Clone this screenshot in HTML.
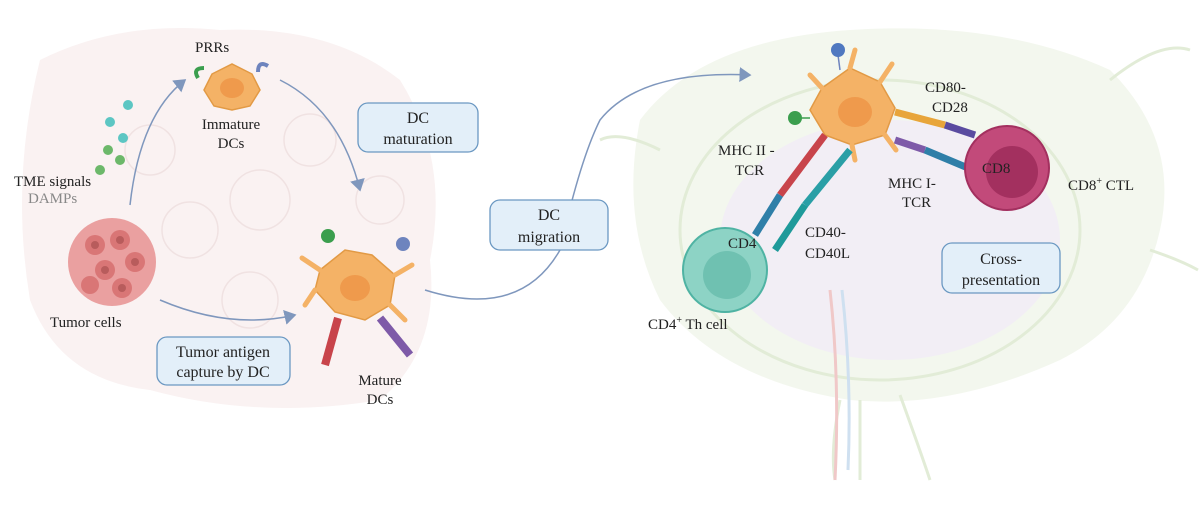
<!DOCTYPE html>
<html><head><meta charset="utf-8"><style>
body{margin:0;background:#fff;width:1200px;height:513px;overflow:hidden}
svg{display:block}
text{font-family:"Liberation Serif",serif;font-size:15px;fill:#222}
.box{fill:#e3eff9;stroke:#6b98c2;stroke-width:1.3}
</style></head><body>
<svg width="1200" height="513" viewBox="0 0 1200 513">
<defs>
<marker id="ar" markerWidth="10" markerHeight="10" refX="7" refY="5" orient="auto"><path d="M0,0 L8,5 L0,10 z" fill="#7f97bd"/></marker>
</defs>
<path d="M40,60 Q120,20 220,30 Q330,25 400,80 Q450,160 430,260 Q440,350 380,400 Q260,420 150,390 Q60,380 30,300 Q10,180 40,60z" fill="#faf2f2"/>
<g fill="none" stroke="#f0e2e2" stroke-width="1.5">
<circle cx="260" cy="200" r="30"/><circle cx="190" cy="230" r="28"/><circle cx="310" cy="140" r="26"/><circle cx="150" cy="150" r="25"/><circle cx="250" cy="300" r="28"/><circle cx="380" cy="200" r="24"/>
</g>
<path d="M640,120 Q700,40 850,30 Q1000,20 1110,70 Q1180,140 1160,230 Q1140,320 1060,360 Q950,410 850,400 Q720,380 660,300 Q620,220 640,120z" fill="#f3f7ee"/>
<ellipse cx="890" cy="240" rx="170" ry="120" fill="#f2eef5"/>
<g fill="none" stroke="#e2ecd7" stroke-width="3">
<path d="M860,400 L860,480 M840,400 Q830,450 835,480 M900,395 Q920,450 930,480 M1110,80 Q1160,40 1190,50 M660,150 Q620,130 600,140 M1150,250 Q1180,260 1198,270"/>
<ellipse cx="880" cy="230" rx="200" ry="150"/>
</g>
<path d="M830,290 Q840,380 835,480" stroke="#f0c8c8" stroke-width="3" fill="none"/>
<path d="M842,290 Q852,380 848,470" stroke="#cfe0f0" stroke-width="3" fill="none"/>
<path d="M130,205 Q140,115 185,80" stroke="#7f97bd" stroke-width="1.5" fill="none" marker-end="url(#ar)"/>
<path d="M280,80 Q340,110 360,190" stroke="#7f97bd" stroke-width="1.5" fill="none" marker-end="url(#ar)"/>
<path d="M160,300 Q230,330 295,315" stroke="#7f97bd" stroke-width="1.5" fill="none" marker-end="url(#ar)"/>
<path d="M425,290 Q520,320 560,250 Q580,160 600,120 Q640,70 750,75" stroke="#7f97bd" stroke-width="1.5" fill="none" marker-end="url(#ar)"/>
<g fill="#5cc6c3"><circle cx="128" cy="105" r="5"/><circle cx="110" cy="122" r="5"/><circle cx="123" cy="138" r="5"/></g>
<g fill="#6cb86a"><circle cx="108" cy="150" r="5"/><circle cx="120" cy="160" r="5"/><circle cx="100" cy="170" r="5"/></g>
<circle cx="112" cy="262" r="44" fill="#eaa0a0"/>
<g fill="#d97676"><circle cx="95" cy="245" r="10"/><circle cx="120" cy="240" r="10"/><circle cx="135" cy="262" r="10"/><circle cx="105" cy="270" r="10"/><circle cx="90" cy="285" r="9"/><circle cx="122" cy="288" r="10"/></g>
<g fill="#b85c5c"><circle cx="95" cy="245" r="4"/><circle cx="120" cy="240" r="4"/><circle cx="135" cy="262" r="4"/><circle cx="105" cy="270" r="4"/><circle cx="122" cy="288" r="4"/></g>
<path d="M212,74 L232,64 L252,74 L260,90 L250,106 L232,110 L214,106 L204,90z" fill="#f4b266" stroke="#e29a45" stroke-width="1.5"/>
<ellipse cx="232" cy="88" rx="12" ry="10" fill="#ef9a4c"/>
<path d="M198,78 q-6,-10 6,-10" stroke="#3b9e4e" stroke-width="4" fill="none"/>
<path d="M258,72 q0,-12 10,-6" stroke="#6e84be" stroke-width="4" fill="none"/>
<path d="M320,270 L345,250 L372,255 L395,275 L390,305 L365,320 L335,312 L315,290z" fill="#f4b266" stroke="#e29a45" stroke-width="1.5"/>
<g stroke="#f4b266" stroke-width="5" stroke-linecap="round"><line x1="320" y1="270" x2="302" y2="258"/><line x1="395" y1="275" x2="412" y2="265"/><line x1="390" y1="305" x2="405" y2="320"/><line x1="315" y1="290" x2="305" y2="305"/></g>
<ellipse cx="355" cy="288" rx="15" ry="13" fill="#ef9a4c"/>
<circle cx="328" cy="236" r="7" fill="#3b9e4e"/><circle cx="403" cy="244" r="7" fill="#6e84be"/>
<line x1="338" y1="318" x2="325" y2="365" stroke="#c8444b" stroke-width="8"/>
<line x1="380" y1="318" x2="410" y2="355" stroke="#7e5aa8" stroke-width="8"/>
<!-- right DC -->
<path d="M822,88 L850,68 L880,82 L895,108 L885,135 L852,145 L825,135 L810,110z" fill="#f4b266" stroke="#e29a45" stroke-width="1.5"/>
<g stroke="#f4b266" stroke-width="5" stroke-linecap="round"><line x1="850" y1="68" x2="855" y2="50"/><line x1="880" y1="82" x2="892" y2="64"/><line x1="885" y1="135" x2="896" y2="150"/><line x1="822" y1="88" x2="810" y2="75"/><line x1="852" y1="145" x2="855" y2="160"/></g>
<ellipse cx="855" cy="112" rx="17" ry="15" fill="#ef9a4c"/>
<line x1="840" y1="70" x2="838" y2="55" stroke="#6e84be" stroke-width="1.5"/>
<circle cx="838" cy="50" r="7" fill="#4f78c0"/>
<line x1="810" y1="118" x2="800" y2="118" stroke="#3b9e4e" stroke-width="1.5"/>
<circle cx="795" cy="118" r="7" fill="#3b9e4e"/>
<g stroke-width="7">
<line x1="825" y1="135" x2="780" y2="195" stroke="#c8444b"/>
<line x1="780" y1="195" x2="755" y2="235" stroke="#2f7fa8"/>
<line x1="850" y1="150" x2="805" y2="205" stroke="#2a9fa6"/>
<line x1="805" y1="205" x2="775" y2="250" stroke="#1f9a9a"/>
<line x1="895" y1="112" x2="945" y2="125" stroke="#e8a53a"/>
<line x1="945" y1="125" x2="975" y2="135" stroke="#5a4ba0"/>
<line x1="895" y1="140" x2="925" y2="150" stroke="#7e5aa8"/>
<line x1="925" y1="150" x2="968" y2="168" stroke="#2f7fa8"/>
</g>
<circle cx="725" cy="270" r="42" fill="#8dd3c5" stroke="#4fb3a3" stroke-width="2"/>
<circle cx="727" cy="275" r="24" fill="#6fc1b1"/>
<circle cx="1007" cy="168" r="42" fill="#c24a7a" stroke="#a3305f" stroke-width="2"/>
<circle cx="1012" cy="172" r="26" fill="#a3305f"/>
<rect class="box" x="358" y="103" width="120" height="49" rx="10"/>
<text x="418" y="123" text-anchor="middle" style="font-size:16px">DC</text><text x="418" y="144" text-anchor="middle" style="font-size:16px">maturation</text>
<rect class="box" x="157" y="337" width="133" height="48" rx="10"/>
<text x="223" y="357" text-anchor="middle" style="font-size:16px">Tumor antigen</text><text x="223" y="377" text-anchor="middle" style="font-size:16px">capture by DC</text>
<rect class="box" x="490" y="200" width="118" height="50" rx="10"/>
<text x="549" y="220" text-anchor="middle" style="font-size:16px">DC</text><text x="549" y="242" text-anchor="middle" style="font-size:16px">migration</text>
<rect class="box" x="942" y="243" width="118" height="50" rx="10"/>
<text x="1001" y="264" text-anchor="middle" style="font-size:16px">Cross-</text><text x="1001" y="285" text-anchor="middle" style="font-size:16px">presentation</text>
<text x="14" y="186">TME signals</text>
<text x="28" y="203" style="fill:#888">DAMPs</text>
<text x="195" y="52">PRRs</text>
<text x="231" y="129" text-anchor="middle">Immature</text><text x="231" y="148" text-anchor="middle">DCs</text>
<text x="50" y="327">Tumor cells</text>
<text x="380" y="385" text-anchor="middle">Mature</text><text x="380" y="404" text-anchor="middle">DCs</text>
<text x="718" y="155">MHC II -</text><text x="735" y="175">TCR</text>
<text x="925" y="92">CD80-</text><text x="932" y="112">CD28</text>
<text x="982" y="173">CD8</text>
<text x="1068" y="190">CD8<tspan dy="-6" style="font-size:10px">+</tspan><tspan dy="6"> CTL</tspan></text>
<text x="888" y="188">MHC I-</text><text x="902" y="207">TCR</text>
<text x="805" y="237">CD40-</text><text x="805" y="258">CD40L</text>
<text x="728" y="248">CD4</text>
<text x="648" y="329">CD4<tspan dy="-6" style="font-size:10px">+</tspan><tspan dy="6"> Th cell</tspan></text>
</svg>
</body></html>
